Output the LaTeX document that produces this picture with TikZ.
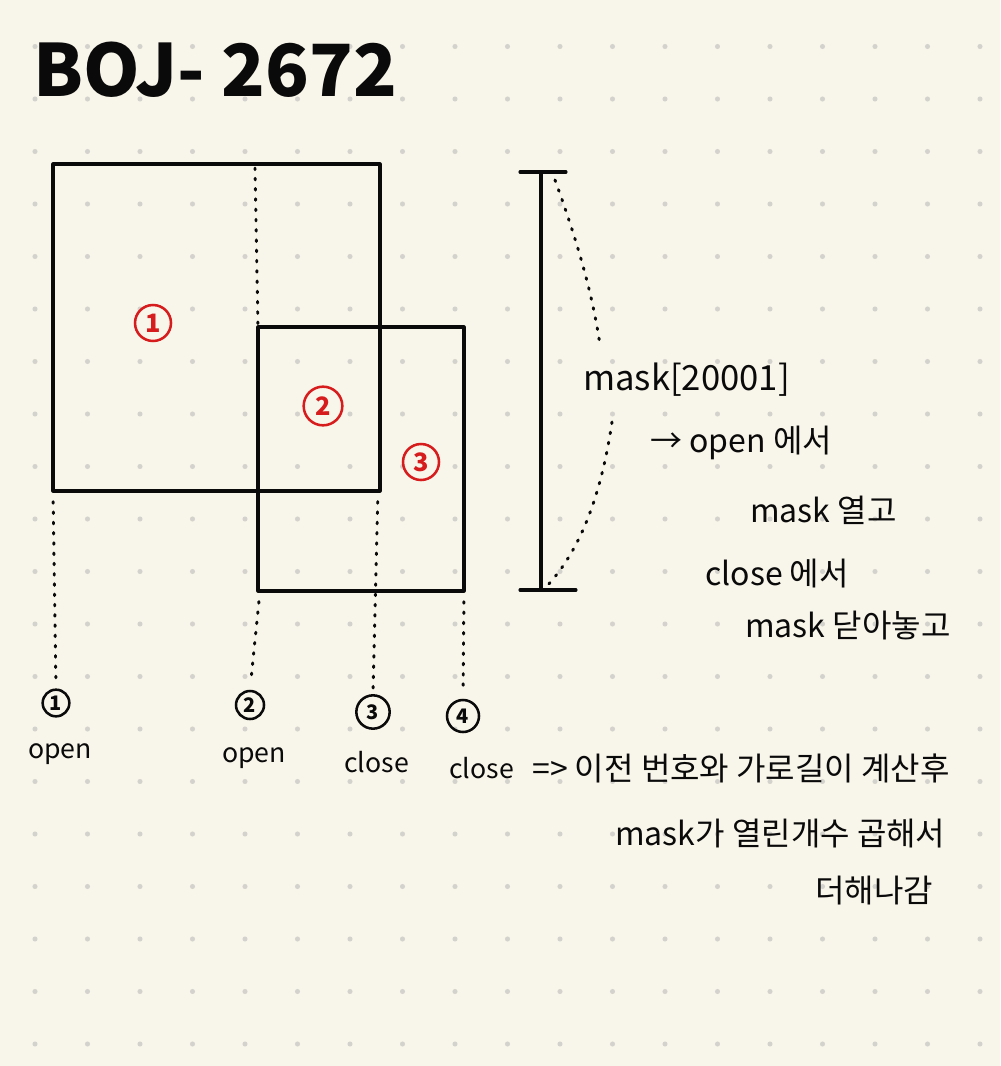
\documentclass[tikz,border=0pt]{standalone}
\usepackage{fontspec}
\setmainfont{Noto Sans CJK KR}
\definecolor{paper}{RGB}{248,245,234}
\definecolor{griddot}{RGB}{212,210,204}
\definecolor{redink}{RGB}{214,28,28}
\definecolor{ink}{RGB}{10,10,10}
\begin{document}
\begin{tikzpicture}[x=0.75pt,y=-0.75pt,
  pen/.style={draw=ink,line width=2.3pt,line cap=round,line join=round},
  dotline/.style={draw=ink,line width=2.2pt,line cap=round,dash pattern=on 1.2pt off 6.5pt},
  numc/.style={circle,draw=ink,line width=1.9pt,inner sep=0pt,text=ink,font=\fontsize{15}{15}\selectfont\bfseries},
  rednum/.style={circle,draw=redink,line width=1.9pt,inner sep=0pt,text=redink,font=\fontsize{19}{19}\selectfont\bfseries},
  lbl/.style={anchor=base west,inner sep=0pt,text=ink,font=\fontsize{20}{20}\selectfont},
  note/.style={anchor=base west,inner sep=0pt,text=ink,font=\fontsize{24}{24}\selectfont}]
% background and bounding box
\fill[paper] (0,0) rectangle (1000,1066);
\useasboundingbox (0,0) rectangle (1000,1066);
% dot grid
\foreach \i in {0,...,18}{
  \foreach \j in {0,...,19}{
    \fill[griddot] (35+52.5*\i,46.5+52.5*\j) circle (1.9pt);
  }
}
% title
\node[anchor=base west,inner sep=0pt,text=ink,font=\fontsize{54}{54}\selectfont\bfseries] (title) at (33,97) {BOJ- 2672};
% rectangles
\coordinate (r1nw) at (53,164);
\coordinate (r1se) at (380,491);
\coordinate (r1sw) at (53,491);
\coordinate (r1top) at (255,168);
\coordinate (r2nw) at (258,327);
\coordinate (r2se) at (464,591);
\coordinate (r2sw) at (260,591);
\coordinate (r1bse) at (378,491);
\draw[pen] (r1nw) rectangle (r1se);
\draw[pen] (r2nw) rectangle (r2se);
% red region numbers
\node[rednum,minimum size=27pt] (n1) at (153,323) {1};
\node[rednum,minimum size=29pt] (n2) at (323,406) {2};
\node[rednum,minimum size=27pt] (n3) at (421,462) {3};
% bottom event labels
\node[numc,minimum size=20pt] (e1) at (56,703) {1};
\node[numc,minimum size=21pt] (e2) at (250,705) {2};
\node[numc,minimum size=25pt] (e3) at (373,712) {3};
\node[numc,minimum size=24pt] (e4) at (463,716) {4};
\node[lbl] (o1) at (28,758) {open};
\node[lbl] (o2) at (222,762) {open};
\node[lbl] (c3) at (344,772) {close};
\node[lbl] (c4) at (449,778) {close};
% dotted guides
\draw[dotline] (r1top) -- (r2nw);
\draw[dotline,shorten <=8pt,shorten >=4pt] (r1sw) -- (e1.north);
\draw[dotline,shorten <=8pt,shorten >=8pt] (r2sw) -- (e2.north);
\draw[dotline,shorten <=8pt,shorten >=4pt] (r1bse) -- (e3.north);
\draw[dotline,shorten <=8pt,shorten >=6pt] (r2se) -- (e4.north);
% scale bar
\coordinate (bt) at (541,172);
\coordinate (bb) at (541,590);
\coordinate (btl) at (520,172);
\coordinate (btr) at (566,172);
\coordinate (bbl) at (520,590);
\coordinate (bbr) at (576,590);
\draw[pen] (bt) -- (bb);
\draw[pen] (btl) -- (btr);
\draw[pen] (bbl) -- (bbr);
% notes
\node[note,font=\fontsize{26}{26}\selectfont] (mask) at (583,390) {mask[20001]};
\node[note] (l1) at (650,452) {→ open 에서};
\node[note] (l2) at (750,522) {mask 열고};
\node[note] (l3) at (705,585) {close 에서};
\node[note] (l4) at (745,637) {mask 닫아놓고};
\node[note] (m1) at (532,780) {=> 이전 번호와 가로길이 계산후};
\node[note] (m2) at (615,845) {mask가 열린개수 곱해서};
\node[note] (m3) at (815,902) {더해나감};
% dotted brace from bar to mask
\coordinate (dA) at (555,180);
\coordinate (dB) at (600,345);
\coordinate (dC) at (612,422);
\coordinate (dD) at (545,588);
\draw[dotline] (dA) .. controls (575,235) and (592,290) .. (dB);
\draw[dotline] (dC) .. controls (602,490) and (582,550) .. (dD);
\end{tikzpicture}
\end{document}
